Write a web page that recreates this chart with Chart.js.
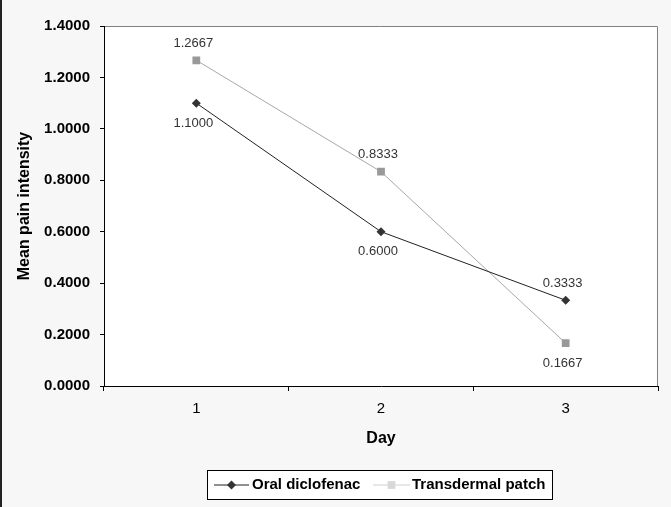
<!DOCTYPE html>
<html>
<head>
<meta charset="utf-8">
<script src="https://cdn.jsdelivr.net/npm/chart.js@4/dist/chart.umd.min.js"></script>
<style>
  html, body { margin: 0; padding: 0; background: #f7f7f7; }
  #wrap { width: 671px; height: 507px; position: relative; }
</style>
</head>
<body>
<div id="wrap"><canvas id="c" width="671" height="507"></canvas></div>
<script>
// ---- data ----
const days = ["1", "2", "3"];
const oralDiclofenac = [1.1000, 0.6000, 0.3333];
const transdermalPatch = [1.2667, 0.8333, 0.1667];
const yTicks = [0, 0.2, 0.4, 0.6, 0.8, 1.0, 1.2, 1.4];
const seriesNames = ["Oral diclofenac", "Transdermal patch"];

// label placement per series (style, not data)
const labelPlacement = [
  ["below", "below", "above"],
  ["above", "above", "below"]
];

const FONT = '"Liberation Sans", Arial, sans-serif';

const bgPlugin = {
  id: 'bg',
  beforeDraw(chart) {
    const ctx = chart.ctx, a = chart.chartArea;
    ctx.save();
    ctx.fillStyle = '#f7f7f7';
    ctx.fillRect(0, 0, chart.width, chart.height);
    ctx.fillStyle = '#222';
    ctx.fillRect(0, 0, 2, chart.height);
    ctx.fillStyle = '#ffffff';
    ctx.fillRect(a.left, a.top, a.right - a.left, a.bottom - a.top);
    ctx.strokeStyle = '#808080';
    ctx.lineWidth = 1;
    ctx.beginPath();
    ctx.moveTo(a.left, a.top + 0.5);
    ctx.lineTo(a.right - 0.5, a.top + 0.5);
    ctx.lineTo(a.right - 0.5, a.bottom);
    ctx.stroke();
    ctx.restore();
  }
};

const labelPlugin = {
  id: 'vals',
  afterDatasetsDraw(chart) {
    const ctx = chart.ctx;
    ctx.save();
    ctx.font = '13px ' + FONT;
    ctx.fillStyle = '#333';
    ctx.textAlign = 'center';
    ctx.textBaseline = 'middle';
    chart.data.datasets.forEach((ds, di) => {
      const meta = chart.getDatasetMeta(di);
      meta.data.forEach((pt, i) => {
        const pos = labelPlacement[di][i];
        const dy = pos === 'above' ? -17 : 20;
        ctx.fillText(ds.data[i].toFixed(4), pt.x - 3, pt.y + dy);
      });
    });
    ctx.restore();
  }
};

const legendPlugin = {
  id: 'customLegend',
  afterDraw(chart) {
    const ctx = chart.ctx;
    const box = { x: 207.5, y: 470.5, w: 345, h: 29 };
    ctx.save();
    ctx.fillStyle = '#ffffff';
    ctx.fillRect(box.x, box.y, box.w, box.h);
    ctx.strokeStyle = '#000';
    ctx.lineWidth = 1;
    ctx.strokeRect(box.x, box.y, box.w, box.h);
    const cy = box.y + box.h / 2;
    const entries = [
      { x0: 214, x1: 249, tx: 252, shape: 'rectRot', r: 4.5 },
      { x0: 373, x1: 410, tx: 412, shape: 'rect', r: 5.5 }
    ];
    ctx.font = 'bold 15px ' + FONT;
    ctx.textBaseline = 'middle';
    ctx.textAlign = 'left';
    chart.data.datasets.forEach((ds, di) => {
      const e = entries[di];
      ctx.strokeStyle = di === 0 ? ds.borderColor : '#d0d0d0';
      ctx.lineWidth = 1;
      ctx.beginPath();
      ctx.moveTo(e.x0, cy);
      ctx.lineTo(e.x1, cy);
      ctx.stroke();
      ctx.fillStyle = di === 0 ? ds.pointBackgroundColor : '#d8d8d8';
      ctx.strokeStyle = ctx.fillStyle;
      Chart.helpers.drawPoint(ctx, { pointStyle: e.shape, radius: e.r, borderWidth: 0 }, (e.x0 + e.x1) / 2, cy);
      ctx.fillStyle = '#000';
      ctx.fillText(ds.label, e.tx, cy);
    });
    ctx.restore();
  }
};

new Chart(document.getElementById('c'), {
  type: 'line',
  data: {
    labels: days,
    datasets: [
      {
        label: seriesNames[0],
        data: oralDiclofenac,
        borderColor: '#222222',
        borderWidth: 1,
        pointStyle: 'rectRot',
        pointRadius: 4.5,
        pointBackgroundColor: '#333333',
        pointBorderColor: '#333333',
        pointBorderWidth: 0,
        tension: 0,
        fill: false
      },
      {
        label: seriesNames[1],
        data: transdermalPatch,
        borderColor: '#a8a8a8',
        borderWidth: 1,
        pointStyle: 'rect',
        pointRadius: 5.5,
        pointBackgroundColor: '#999999',
        pointBorderColor: '#999999',
        pointBorderWidth: 0,
        tension: 0,
        fill: false
      }
    ]
  },
  options: {
    responsive: false,
    animation: false,
    devicePixelRatio: 1,
    layout: { padding: { top: 26, right: 13, left: 0, bottom: 52 } },
    plugins: { legend: { display: false }, tooltip: { enabled: false } },
    scales: {
      x: {
        type: 'category',
        offset: true,
        afterFit(s) { s.height = 69; },
        grid: { offset: true, drawOnChartArea: false, tickLength: 5, color: '#000', tickColor: '#000' },
        border: { color: '#000', width: 1 },
        ticks: { padding: 9, color: '#000', font: { family: FONT, size: 15 } },
        title: { display: true, text: 'Day', color: '#000', padding: { top: 0, bottom: 7 },
          font: { family: FONT, size: 16, weight: 'bold' } }
      },
      y: {
        min: 0, max: 1.4,
        afterFit(s) { s.width = 104; },
        afterBuildTicks(s) { s.ticks = yTicks.map(v => ({ value: v })); },
        grid: { drawOnChartArea: false, tickLength: 4, color: '#000', tickColor: '#000' },
        border: { color: '#000', width: 1 },
        ticks: { padding: 10, color: '#000', callback: v => Number(v).toFixed(4),
          font: { family: FONT, size: 15, weight: 'bold' } },
        title: { display: true, text: 'Mean pain intensity', color: '#000', padding: { top: 15, bottom: 0 },
          font: { family: FONT, size: 16, weight: 'bold' } }
      }
    }
  },
  plugins: [bgPlugin, labelPlugin, legendPlugin]
});
</script>
</body>
</html>
